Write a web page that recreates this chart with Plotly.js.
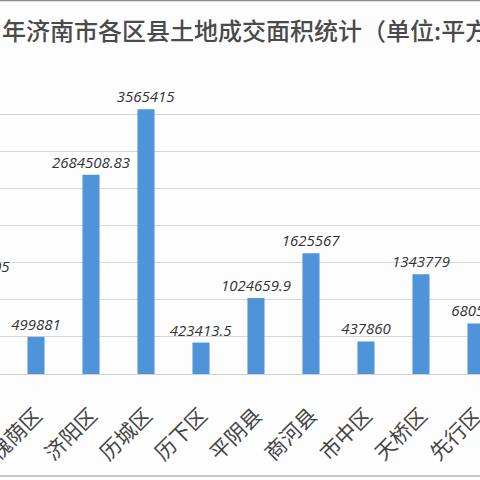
<!DOCTYPE html>
<html>
<head>
<meta charset="utf-8">
<script src="https://cdn.plot.ly/plotly-3.0.1.min.js"></script>
<style>html,body{margin:0;padding:0;background:#fdfdfe;overflow:hidden;width:480px;height:480px;}#chart{width:560px;height:480px;margin-left:-80px;}</style>
</head>
<body>
<div id="chart"></div>
<script>
const districts = ["高新区","槐荫区","济阳区","历城区","历下区","平阴县","商河县","市中区","天桥区","先行区"];
const areaValues = [1280005, 499881, 2684508.83, 3565415, 423413.5, 1024659.9, 1625567, 437860, 1343779, 680500];
const titleText = "年济南市各区县土地成交面积统计（单位:平方";

const trace = {
  type: "bar",
  x: districts,
  y: areaValues,
  width: 0.31,
  marker: {color: "#4f93d8"},
  text: areaValues.map(v => String(v)),
  textposition: "outside",
  constraintext: "none",
  cliponaxis: false,
  textfont: {family: "Open Sans", size: 15, color: "#333333", style: "italic"},
  hoverinfo: "none"
};

// the figure is 560 px wide and shifted 80 px left, so its left part is out of view
const SHIFT = 80, FIGW = 560;
const py = p => (374 - p) / 297;          // page row -> paper y
const px = p => (p + SHIFT) / FIGW;       // page column -> paper x

const layout = {
  width: FIGW, height: 480,
  margin: {l: 0, r: 0, t: 77, b: 106, pad: 0},
  paper_bgcolor: "#fdfdfe",
  plot_bgcolor: "#fdfdfe",
  showlegend: false,
  xaxis: {
    type: "category",
    range: [-1.109, 9.073],
    tickangle: -45,
    ticklabelstandoff: 20,
    tickfont: {family: "Noto Sans CJK SC", size: 21, color: "#454545"},
    showline: true, linecolor: "#d0d0d0", linewidth: 1,
    showgrid: false, ticks: "", fixedrange: true
  },
  yaxis: {
    range: [0, 4000000],
    dtick: 500000,
    showticklabels: false,
    gridcolor: "#d6d6d6", gridwidth: 1,
    zeroline: false, fixedrange: true
  },
  annotations: [{
    xref: "paper", yref: "paper", x: px(0), y: py(29), xanchor: "left", yanchor: "middle",
    text: titleText, showarrow: false,
    font: {family: "Noto Sans CJK SC", size: 24, color: "#4a4a4a", weight: 500}
  }],
  shapes: [
    {type: "line", xref: "paper", yref: "paper", x0: 0, x1: 1, y0: py(0.5), y1: py(0.5), line: {color: "#8c8c8c", width: 1.5}},
    {type: "line", xref: "paper", yref: "paper", x0: 0, x1: 1, y0: py(476), y1: py(476), line: {color: "#b4b4b4", width: 1.5}}
  ]
};

Plotly.newPlot("chart", [trace], layout, {displayModeBar: false, staticPlot: true});
</script>
</body>
</html>
